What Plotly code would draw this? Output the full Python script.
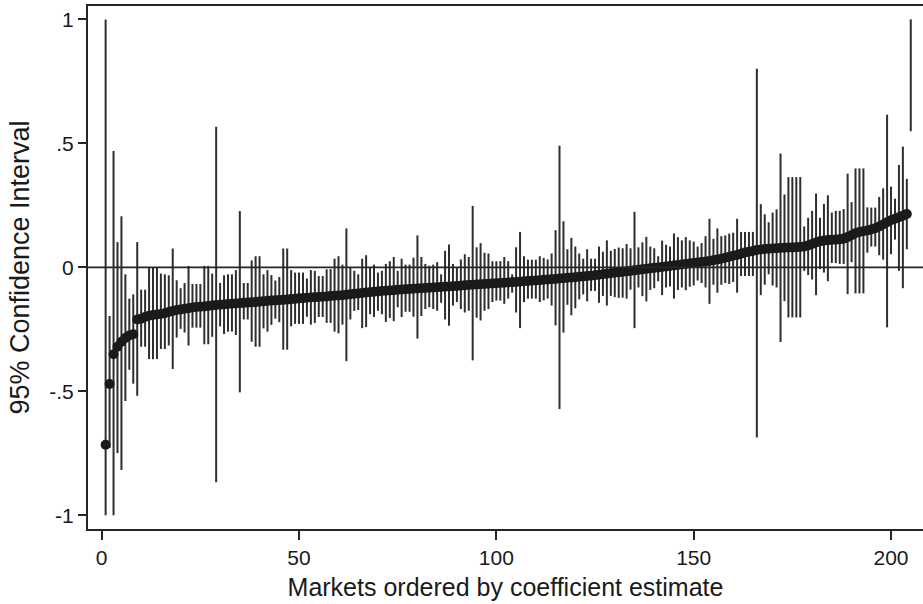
import plotly.graph_objects as go

# Market-level coefficient estimates, sorted, with 95% confidence bounds
# (bounds are truncated at +/-1 on the plotted scale).
market = list(range(1, 206))

estimate = [
    -0.715, -0.47, -0.35, -0.32, -0.30, -0.285, -0.275, -0.27, -0.21, -0.207,
    -0.2, -0.195, -0.192, -0.19, -0.188, -0.185, -0.18, -0.176, -0.172, -0.17,
    -0.167, -0.165, -0.162, -0.16, -0.159, -0.158, -0.156, -0.154, -0.152, -0.151,
    -0.15, -0.148, -0.147, -0.146, -0.145, -0.143, -0.142, -0.141, -0.14, -0.138,
    -0.137, -0.135, -0.134, -0.133, -0.132, -0.131, -0.13, -0.128, -0.127, -0.125,
    -0.124, -0.122, -0.121, -0.12, -0.119, -0.118, -0.117, -0.115, -0.114, -0.113,
    -0.112, -0.11, -0.108, -0.106, -0.105, -0.103, -0.101, -0.1, -0.098, -0.097,
    -0.095, -0.094, -0.093, -0.092, -0.09, -0.089, -0.088, -0.087, -0.086, -0.085,
    -0.084, -0.083, -0.082, -0.081, -0.08, -0.079, -0.078, -0.077, -0.076, -0.075,
    -0.074, -0.072, -0.071, -0.07, -0.069, -0.068, -0.067, -0.066, -0.065, -0.064,
    -0.063, -0.062, -0.061, -0.06, -0.059, -0.058, -0.056, -0.055, -0.054, -0.053,
    -0.052, -0.05, -0.049, -0.048, -0.047, -0.045, -0.044, -0.042, -0.041, -0.04,
    -0.038, -0.037, -0.035, -0.034, -0.032, -0.03, -0.028, -0.026, -0.024, -0.022,
    -0.02, -0.018, -0.016, -0.014, -0.012, -0.01, -0.008, -0.006, -0.004, -0.002,
    0.0, 0.002, 0.004, 0.006, 0.008, 0.01, 0.012, 0.014, 0.016, 0.018,
    0.02, 0.022, 0.024, 0.026, 0.029, 0.032, 0.035, 0.039, 0.043, 0.047,
    0.05, 0.055, 0.06, 0.063, 0.066, 0.07, 0.072, 0.074, 0.075, 0.076,
    0.077, 0.078, 0.079, 0.08, 0.08, 0.081, 0.082, 0.084, 0.088, 0.094,
    0.1, 0.105, 0.108, 0.11, 0.111, 0.112, 0.113, 0.116, 0.122, 0.13,
    0.138, 0.143, 0.146, 0.149, 0.153, 0.158, 0.165, 0.173, 0.182, 0.19,
    0.196, 0.202, 0.208, 0.215, None,
]

ci_upper = [
    1.0, -0.196, 0.469, 0.102, 0.206, -0.028, -0.126, -0.109, 0.102, -0.09,
    -0.09, 0.0, 0.0, 0.0, -0.025, -0.028, -0.032, 0.076, -0.052, -0.084,
    -0.063, 0.006, -0.067, -0.067, -0.067, 0.006, 0.006, -0.025, 0.567, -0.063,
    -0.032, -0.028, -0.028, -0.011, 0.227, -0.063, -0.063, 0.028, 0.045, 0.045,
    -0.028, -0.011, -0.031, -0.053, -0.039, 0.076, 0.076, -0.011, -0.021, -0.021,
    -0.021, -0.045, -0.011, -0.014, -0.035, -0.035, -0.008, -0.007, 0.035, 0.045,
    0.011, 0.157, 0.0, -0.014, -0.028, 0.035, 0.049, 0.0, 0.011, -0.021,
    -0.014, 0.014, 0.025, 0.042, -0.014, 0.035, 0.011, 0.011, 0.039, 0.129,
    0.042, 0.014, 0.007, 0.011, 0.021, -0.028, 0.067, 0.092, 0.014, 0.0,
    0.032, 0.053, 0.042, 0.248, 0.081, 0.098, 0.059, 0.056, 0.025, 0.025,
    0.025, 0.042, 0.025, -0.028, 0.081, 0.143, 0.045, 0.031, 0.031, 0.031,
    0.045, 0.038, 0.032, 0.056, 0.15, 0.49, 0.186, 0.073, 0.119, 0.084,
    0.056, 0.035, 0.073, 0.035, 0.035, 0.084, 0.063, 0.109, 0.067, 0.074,
    0.08, 0.077, 0.094, 0.077, 0.224, 0.081, 0.101, 0.123, 0.084, 0.077,
    0.045, 0.108, 0.091, 0.084, 0.137, 0.122, 0.109, 0.122, 0.109, 0.104,
    0.084, 0.098, 0.126, 0.196, 0.115, 0.157, 0.126, 0.129, 0.136, 0.14,
    0.196, 0.143, 0.143, 0.143, 0.143, 0.801, 0.255, 0.214, 0.182, 0.221,
    0.234, 0.459, 0.294, 0.364, 0.364, 0.364, 0.364, 0.165, 0.2, 0.228,
    0.298, 0.2, 0.256, 0.291, 0.221, 0.228, 0.228, 0.235, 0.378, 0.263,
    0.399, 0.399, 0.399, 0.242, 0.241, 0.241, 0.284, 0.319, 0.616, 0.326,
    0.277, 0.413, 0.487, 0.357, 1.0,
]

ci_lower = [
    -1.0, -0.728, -1.0, -0.749, -0.817, -0.539, -0.413, -0.469, -0.518, -0.32,
    -0.32, -0.37, -0.37, -0.37, -0.329, -0.329, -0.315, -0.41, -0.283, -0.248,
    -0.263, -0.315, -0.243, -0.243, -0.243, -0.31, -0.31, -0.28, -0.866, -0.238,
    -0.269, -0.259, -0.259, -0.273, -0.504, -0.21, -0.21, -0.30, -0.32, -0.32,
    -0.246, -0.259, -0.232, -0.207, -0.221, -0.332, -0.332, -0.238, -0.228, -0.228,
    -0.228, -0.199, -0.231, -0.224, -0.20, -0.20, -0.224, -0.224, -0.259, -0.266,
    -0.231, -0.378, -0.21, -0.175, -0.172, -0.245, -0.241, -0.189, -0.2, -0.175,
    -0.189, -0.22, -0.204, -0.217, -0.161, -0.2, -0.179, -0.179, -0.199, -0.287,
    -0.196, -0.168, -0.161, -0.168, -0.175, -0.143, -0.21, -0.235, -0.154, -0.14,
    -0.168, -0.182, -0.175, -0.375, -0.203, -0.214, -0.175, -0.168, -0.14, -0.134,
    -0.134, -0.147, -0.126, -0.102, -0.182, -0.245, -0.14, -0.126, -0.126, -0.126,
    -0.14, -0.133, -0.126, -0.154, -0.234, -0.571, -0.263, -0.151, -0.193, -0.165,
    -0.129, -0.109, -0.137, -0.095, -0.095, -0.143, -0.115, -0.154, -0.115, -0.12,
    -0.123, -0.122, -0.126, -0.09, -0.245, -0.081, -0.116, -0.137, -0.091, -0.084,
    -0.056, -0.112, -0.081, -0.077, -0.126, -0.091, -0.081, -0.092, -0.078, -0.073,
    -0.053, -0.063, -0.081, -0.147, -0.07, -0.102, -0.07, -0.063, -0.067, -0.059,
    -0.102, -0.035, -0.035, -0.035, -0.035, -0.686, -0.112, -0.07, -0.028, -0.073,
    -0.081, -0.301, -0.136, -0.202, -0.202, -0.202, -0.202, -0.014, -0.031, -0.049,
    -0.112, -0.007, -0.021, -0.056, 0.018, 0.017, 0.014, 0.014, -0.108, 0.021,
    -0.105, -0.105, -0.105, 0.059, 0.084, 0.084, 0.049, 0.031, -0.242, 0.053,
    0.112, -0.014, -0.084, 0.073, 0.549,
]

x_ticks = [0, 50, 100, 150, 200]
y_ticks = [-1, -0.5, 0, 0.5, 1]
y_tick_text = ["-1", "-.5", "0", ".5", "1"]

INK = "#262626"
FONT = "Liberation Sans, Arial, Helvetica, sans-serif"

# Vertical spikes: one segment per market, separated by gaps.
spike_x, spike_y = [], []
for m, lo, hi in zip(market, ci_lower, ci_upper):
    spike_x += [m, m, None]
    spike_y += [lo, hi, None]

fig = go.Figure()
fig.add_trace(go.Scatter(
    x=spike_x, y=spike_y, mode="lines",
    line=dict(color="#2e2e2e", width=2),
    hoverinfo="skip", showlegend=False,
))
fig.add_trace(go.Scatter(
    x=market, y=estimate, mode="markers",
    marker=dict(color="#1a1a1a", size=10, line=dict(width=0)),
    showlegend=False,
))

fig.add_hline(y=0, line=dict(color=INK, width=1.6), layer="above")

fig.update_layout(
    width=923, height=604,
    margin=dict(l=88, r=0, t=6, b=75),
    paper_bgcolor="white", plot_bgcolor="white",
    font=dict(family=FONT, color="#1a1a1a", size=21),
    showlegend=False,
)
fig.update_xaxes(
    range=[-3.47, 208.1],
    tickmode="array", tickvals=x_ticks,
    ticks="outside", ticklen=9, tickwidth=1.5, tickcolor=INK,
    showline=True, mirror=True, linecolor=INK, linewidth=2,
    showgrid=False, zeroline=False,
    tickfont=dict(size=21),
    title=dict(text="Markets ordered by coefficient estimate",
               font=dict(size=25), standoff=10),
)
fig.update_yaxes(
    range=[-1.055, 1.054],
    tickmode="array", tickvals=y_ticks, ticktext=y_tick_text,
    ticks="outside", ticklen=8, tickwidth=1.5, tickcolor=INK,
    showline=True, mirror=False, linecolor=INK, linewidth=2,
    showgrid=False, zeroline=False,
    tickfont=dict(size=21),
    title=dict(text="95% Confidence Interval", font=dict(size=27), standoff=12),
)

fig.write_html("out.html")
